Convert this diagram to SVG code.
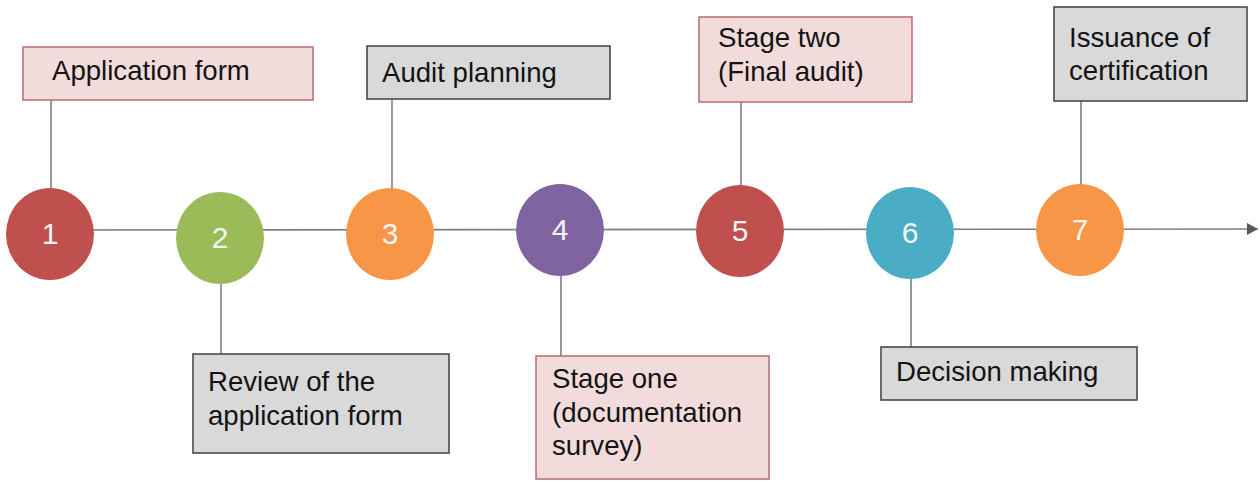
<svg xmlns="http://www.w3.org/2000/svg" width="1260" height="481" viewBox="0 0 1260 481">
<style>
.ln{stroke:#7f7f7f;stroke-width:1.6;fill:none}
.pink{fill:#f2dcdb;stroke:#b86a6c;stroke-width:1.5}
.gray{fill:#d9d9d9;stroke:#3f3f3f;stroke-width:1.5}
.lbl{font-family:"Liberation Sans",Arial,sans-serif;font-size:27.6px;fill:#141414}
.num{font-family:"Liberation Sans",Arial,sans-serif;font-size:30px;fill:#f4f4f4;text-anchor:middle}
</style>
<defs>
<marker id="arr" markerWidth="12" markerHeight="12" refX="11" refY="6" orient="auto" markerUnits="userSpaceOnUse">
<path d="M0,0 L11,6 L0,12 Z" fill="#595959"/>
</marker>
</defs>
<rect width="1260" height="481" fill="#ffffff"/>
<g id="connectors">
<line class="ln" x1="50" y1="230" x2="1258" y2="229" marker-end="url(#arr)"/>
<line class="ln" x1="51" y1="100" x2="51" y2="190"/>
<line class="ln" x1="221" y1="284" x2="221" y2="354"/>
<line class="ln" x1="392" y1="99" x2="392" y2="190"/>
<line class="ln" x1="561" y1="276" x2="561" y2="356"/>
<line class="ln" x1="741" y1="102" x2="741" y2="187"/>
<line class="ln" x1="911" y1="278" x2="911" y2="347"/>
<line class="ln" x1="1081" y1="101" x2="1081" y2="186"/>
</g>
<g id="step1">
<ellipse cx="50" cy="234" rx="44" ry="46" fill="#c0504d"/>
<text class="num" x="50" y="244">1</text>
<rect class="pink" x="23" y="47" width="290" height="53"/>
<text class="lbl" x="52" y="80">Application form</text>
</g>
<g id="step2">
<ellipse cx="220" cy="238" rx="44" ry="46" fill="#9bbb59"/>
<text class="num" x="220" y="248">2</text>
<rect class="gray" x="193" y="354" width="256" height="99"/>
<text class="lbl" x="208" y="391">Review of the</text>
<text class="lbl" x="208" y="425">application form</text>
</g>
<g id="step3">
<ellipse cx="390" cy="234" rx="44" ry="46" fill="#f79646"/>
<text class="num" x="390" y="244">3</text>
<rect class="gray" x="367" y="46" width="243" height="53"/>
<text class="lbl" x="382" y="82">Audit planning</text>
</g>
<g id="step4">
<ellipse cx="560" cy="230" rx="44" ry="46" fill="#8064a2"/>
<text class="num" x="560" y="240">4</text>
<rect class="pink" x="536" y="356" width="233" height="123"/>
<text class="lbl" x="552" y="388">Stage one</text>
<text class="lbl" x="552" y="422">(documentation</text>
<text class="lbl" x="552" y="455">survey)</text>
</g>
<g id="step5">
<ellipse cx="740" cy="231" rx="44" ry="46" fill="#c0504d"/>
<text class="num" x="740" y="241">5</text>
<rect class="pink" x="699" y="17" width="213" height="85"/>
<text class="lbl" x="718" y="47">Stage two</text>
<text class="lbl" x="718" y="81">(Final audit)</text>
</g>
<g id="step6">
<ellipse cx="910" cy="233" rx="44" ry="46" fill="#4bacc6"/>
<text class="num" x="910" y="243">6</text>
<rect class="gray" x="881" y="347" width="256" height="53"/>
<text class="lbl" x="896" y="381">Decision making</text>
</g>
<g id="step7">
<ellipse cx="1080" cy="230" rx="44" ry="46" fill="#f79646"/>
<text class="num" x="1080" y="240">7</text>
<rect class="gray" x="1054" y="7" width="193" height="94"/>
<text class="lbl" x="1069" y="47">Issuance of</text>
<text class="lbl" x="1069" y="80">certification</text>
</g>
</svg>
